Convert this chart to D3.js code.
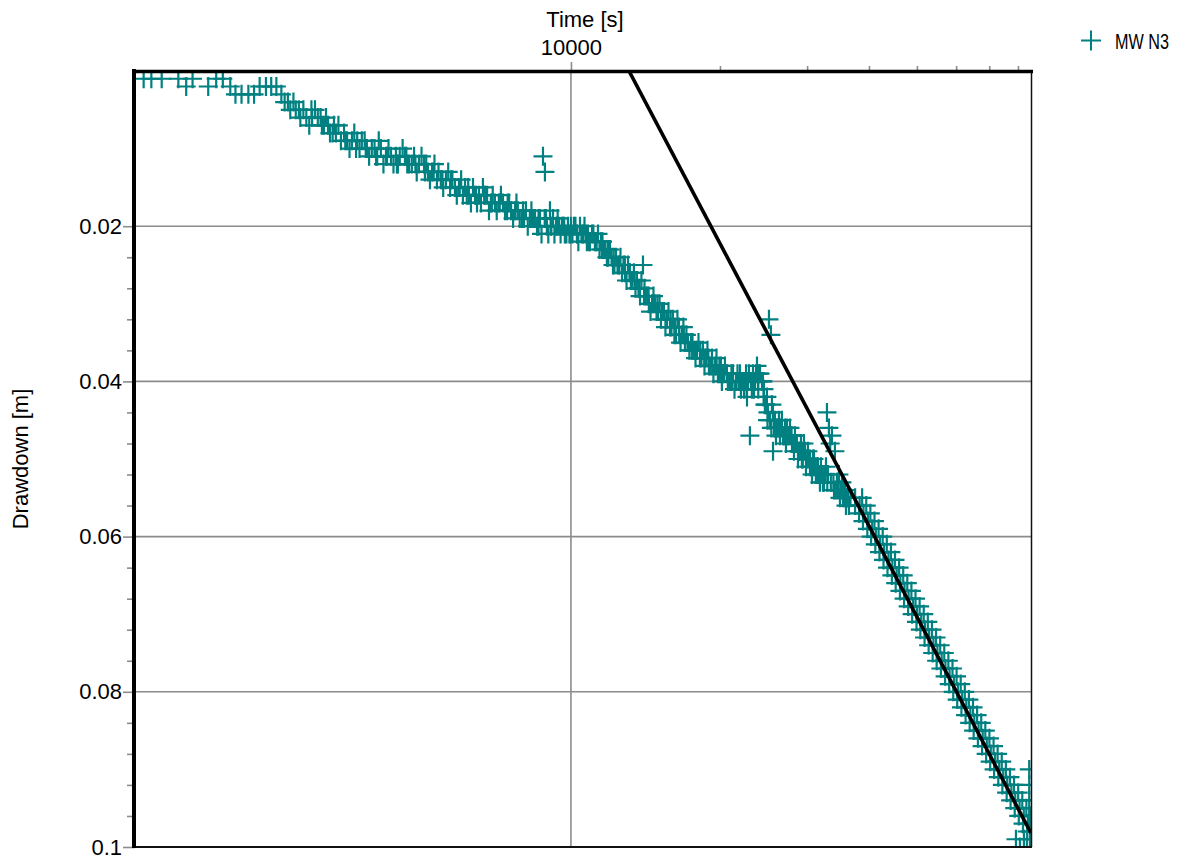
<!DOCTYPE html>
<html>
<head>
<meta charset="utf-8">
<script src="https://cdn.jsdelivr.net/npm/d3@7"></script>
<style>
  html, body { margin: 0; padding: 0; background: #ffffff; }
  svg { display: block; }
  text { font-family: "Liberation Sans", Arial, Helvetica, sans-serif; fill: #000; }
</style>
</head>
<body>
<svg id="chart" width="1198" height="858"></svg>
<script>
// Pumping test, observation well MW N3: drawdown against elapsed time
const seriesName = "MW N3";

const timeS = [
  1370, 1420, 1490, 1610, 1670, 1720, 1850, 1920, 1980, 2050,
  2100, 2160, 2230, 2290, 2350, 2420, 2480, 2540, 2600, 2640,
  2710, 2780, 2840, 2920, 3000, 3080, 3140, 3200, 3260, 3350,
  3430, 3530, 3610, 3700, 3780, 3870, 3960, 4060, 4130, 4230,
  4330, 4430, 4510, 4620, 4710, 4820, 4930, 5050, 5140, 5240,
  5360, 5460, 5590, 5700, 5830, 5940, 6050, 6160, 6280, 6400,
  6520, 6640, 6770, 6890, 7020, 7150, 7290, 7430, 7570, 7710,
  7810, 7960, 8110, 8260, 8380, 8540, 8660, 8780, 8860, 8940,
  9070, 9200, 9330, 9460, 9590, 9720, 9860, 10000, 10140, 10280,
  10430, 10570, 10720, 10820, 11030, 11180, 11340, 11500, 11660, 11820,
  11990, 12160, 12330, 12500, 12680, 12860, 13040, 13220, 13400, 13590,
  13790, 13980, 14170, 14370, 14580, 14780, 14990, 15200, 15410, 15630,
  15850, 16070, 16300, 16530, 16760, 16990, 17230, 17480, 17720, 17970,
  18220, 18480, 18740, 19000, 19270, 19540, 19810, 20090, 20280, 20660,
  20950, 21250, 21550, 21850, 22050, 22260, 22470, 22680, 22890, 22990,
  23100, 23320, 23540, 23760, 23980, 24320, 24540, 24650, 24880, 25120,
  25350, 25590, 25600, 25830, 26070, 26310, 26560, 26810, 27060, 27310,
  27570, 27830, 28090, 28350, 28610, 28880, 29150, 29420, 29700, 29970,
  30260, 30540, 30830, 31110, 31400, 31690, 31990, 32290, 32590, 32900,
  33200, 33670, 34140, 34460, 34780, 35110, 35440, 35770, 36100, 36440,
  // late time, on the straight-line segment
  36700, 37500, 37500, 38300, 38200, 39000, 38900, 39800, 39700, 40600,
  40400, 41300, 41200, 42100, 42000, 42900, 42800, 43800, 43600, 44600,
  44500, 45500, 45300, 46300, 46200, 47200, 47100, 48100, 48000, 49100,
  48900, 50000, 49900, 51000, 50800, 51900, 51800, 52900, 52800, 54000,
  53800, 55000, 54800, 56100, 55900, 57100, 57000, 58200, 58100, 59400,
  59200, 60500, 60300, 61700, 61500, 62900, 62700, 64100, 63900, 65300,
  65100, 66600, 66400, 67900, 67700, 69200, 69000, 70500, 70300, 71900,
  71600, 73300, 73000, 74700, 74400, 76100, 75900, 77600, 77300, 79000,
  78800, 80600, 80300, 82200, 81900, 83800, 83500, 84700,
  79250, 80730, 82250, 83390, 84570, 84300, 84300, 84300, 84300,
  // additional readings, early and middle times
  2750, 2880, 2960, 3040, 3120, 3230, 3300, 3390, 3480, 3570,
  3650, 3740, 3830, 3910, 4010, 4090, 4180, 4280, 4380, 4470,
  4570, 4670, 4770, 4880, 4990, 5100, 5190, 5300,
  5400, 5520, 5650, 5760, 5880, 6000, 6110, 6220, 6340, 6460,
  6580, 6700, 6830, 6950, 7080, 7220, 7360, 7500, 7640, 7760,
  7880, 8040, 8180, 8320, 8460, 8600, 8720, 8900, 9000, 9130,
  9260, 9400, 9530, 9650, 9790, 9930, 10070, 10210, 10350, 10500,
  10650, 10770, 10920, 11100, 11260, 11420, 11580, 11740, 11900, 12080,
  12240, 12420, 12590, 12770, 12950, 13130, 13310, 13500, 13690, 13880,
  14080, 14270, 14480, 14680, 14890, 15100, 15300, 15520, 15740, 15960,
  16180, 16410, 16650, 16870, 17110, 17350, 17600, 17850, 18100, 18350,
  18610, 18870, 19140, 19400, 19680, 19950, 20180, 20470, 20800, 21100,
  21400, 21700, 21950, 22150, 22370, 22580, 22780, 23200, 23430, 23650,
  23870, 24100, 24430, 24760, 25000, 25240, 25470, 25710, 25950, 26190,
  26440, 26680, 26930, 27190, 27440, 27700, 27960, 28220, 28480, 28750,
  29020, 29280, 29560, 29840, 30110, 30400, 30690, 30970, 31250, 31550,
  31840, 32140, 32440, 32750, 33050, 33400, 33900, 34300, 34620, 34950,
  35270, 35600, 35940, 36270,
  // additional late readings
  38750, 39500, 40260, 41040, 41830, 42640, 43460, 44300, 45150, 46020,
  46910, 47810, 48730, 49670, 50630, 51610, 52600, 53620, 54650, 55710,
  56780, 57870, 58990, 60130, 61290, 62470, 63670, 64900, 66150, 67430,
  68730, 70050, 71410, 72780, 74190, 75620, 77070, 78560, 80080, 81620,
  83190, 84800,
  // further readings, early to middle times
  2680, 2820, 2990, 3170, 3320, 3500, 3680, 3850, 4040, 4250,
  4450, 4650, 4850, 5070, 5280, 5500, 5720, 5960, 6200, 6430,
  6680, 6920, 7180, 7450, 7720, 8000, 8300, 8600, 8850,
  9100, 9380, 9690, 9980, 10300, 10600, 10880, 11250, 11550, 11880,
  12200, 12520, 12850, 13160, 13450, 13750, 14050, 14350, 14650, 14950,
  15250, 15580, 15900, 16220, 16550, 16900, 17200, 17550, 17900, 18250,
  18600, 18950, 19300, 19650, 20000, 20400, 20750, 21150, 21600, 22100,
  22650, 23300, 23900, 24500, 24950, 25400, 25900, 26400, 26900, 27400,
  27900, 28400, 28900, 29400, 29900, 30400, 30900, 31400, 31900, 32400,
  32950, 33500, 34000, 34500, 35000, 35500, 36000
];

const drawdownM = [
  0.001, 0.001, 0.001, 0.001, 0.002, 0.001, 0.002, 0.001, 0.001, 0.002,
  0.003, 0.003, 0.003, 0.003, 0.002, 0.002, 0.002, 0.002, 0.003, 0.004,
  0.005, 0.005, 0.006, 0.006, 0.006, 0.006, 0.007, 0.006, 0.008, 0.008,
  0.009, 0.009, 0.009, 0.009, 0.009, 0.010, 0.010, 0.011, 0.010, 0.011,
  0.011, 0.011, 0.011, 0.011, 0.012, 0.011, 0.012, 0.012, 0.013, 0.013,
  0.014, 0.014, 0.014, 0.015, 0.015, 0.015, 0.016, 0.016, 0.017, 0.016,
  0.016, 0.015, 0.016, 0.017, 0.017, 0.017, 0.017, 0.018, 0.018, 0.018,
  0.018, 0.019, 0.018, 0.019, 0.019, 0.020, 0.019, 0.011, 0.013, 0.020,
  0.018, 0.019, 0.020, 0.020, 0.020, 0.021, 0.020, 0.020, 0.020, 0.021,
  0.020, 0.021, 0.021, 0.021, 0.021, 0.022, 0.021, 0.022, 0.023, 0.024,
  0.023, 0.025, 0.024, 0.025, 0.026, 0.026, 0.025, 0.027, 0.026, 0.027,
  0.029, 0.025, 0.029, 0.030, 0.030, 0.030, 0.031, 0.032, 0.031, 0.032,
  0.033, 0.032, 0.034, 0.033, 0.034, 0.035, 0.035, 0.035, 0.036, 0.036,
  0.037, 0.036, 0.037, 0.038, 0.037, 0.038, 0.039, 0.038, 0.039, 0.039,
  0.040, 0.039, 0.040, 0.040, 0.041, 0.040, 0.040, 0.042, 0.039, 0.047,
  0.040, 0.039, 0.040, 0.038, 0.039, 0.040, 0.041, 0.043, 0.042, 0.032,
  0.034, 0.044, 0.049, 0.045, 0.046, 0.045, 0.046, 0.047, 0.046, 0.046,
  0.047, 0.047, 0.048, 0.047, 0.048, 0.049, 0.048, 0.049, 0.049, 0.050,
  0.050, 0.051, 0.050, 0.051, 0.052, 0.052, 0.051, 0.053, 0.052, 0.044,
  0.046, 0.047, 0.049, 0.053, 0.052, 0.054, 0.055, 0.054, 0.055, 0.056,
  // late time, on the straight-line segment
  0.055, 0.055, 0.056, 0.056, 0.057, 0.057, 0.058, 0.058, 0.059, 0.059,
  0.060, 0.060, 0.061, 0.061, 0.062, 0.062, 0.063, 0.063, 0.064, 0.064,
  0.065, 0.065, 0.066, 0.066, 0.067, 0.067, 0.068, 0.068, 0.069, 0.069,
  0.070, 0.070, 0.071, 0.071, 0.072, 0.072, 0.073, 0.073, 0.074, 0.074,
  0.075, 0.075, 0.076, 0.076, 0.077, 0.077, 0.078, 0.078, 0.079, 0.079,
  0.080, 0.080, 0.081, 0.081, 0.082, 0.082, 0.083, 0.083, 0.084, 0.084,
  0.085, 0.085, 0.086, 0.086, 0.087, 0.087, 0.088, 0.088, 0.089, 0.089,
  0.090, 0.090, 0.091, 0.091, 0.092, 0.092, 0.093, 0.093, 0.094, 0.094,
  0.095, 0.095, 0.096, 0.096, 0.097, 0.097, 0.098, 0.098,
  0.099, 0.100, 0.099, 0.100, 0.099, 0.090, 0.092, 0.094, 0.096,
  // additional readings, early and middle times
  0.004, 0.005, 0.007, 0.005, 0.006, 0.007, 0.008, 0.007, 0.008, 0.010,
  0.008, 0.010, 0.009, 0.011, 0.010, 0.009, 0.012, 0.010, 0.012, 0.012,
  0.010, 0.012, 0.012, 0.013, 0.011, 0.012, 0.014, 0.012,
  0.013, 0.015, 0.013, 0.014, 0.016, 0.014, 0.015, 0.016, 0.015, 0.017,
  0.017, 0.016, 0.018, 0.016, 0.018, 0.016, 0.018, 0.017, 0.019, 0.017,
  0.019, 0.019, 0.020, 0.018, 0.019, 0.020, 0.021, 0.019, 0.021, 0.020,
  0.021, 0.019, 0.021, 0.020, 0.021, 0.021, 0.021, 0.020, 0.022, 0.021,
  0.020, 0.022, 0.022, 0.021, 0.022, 0.023, 0.022, 0.023, 0.024, 0.024,
  0.025, 0.025, 0.024, 0.025, 0.027, 0.026, 0.027, 0.028, 0.028, 0.027,
  0.028, 0.029, 0.031, 0.029, 0.031, 0.030, 0.031, 0.033, 0.031, 0.033,
  0.034, 0.032, 0.035, 0.033, 0.034, 0.036, 0.035, 0.037, 0.035, 0.037,
  0.038, 0.036, 0.038, 0.039, 0.037, 0.038, 0.040, 0.038, 0.040, 0.039,
  0.041, 0.039, 0.039, 0.040, 0.041, 0.039, 0.040, 0.041, 0.041, 0.039,
  0.040, 0.039, 0.040, 0.043, 0.044, 0.045, 0.043, 0.046, 0.047, 0.046,
  0.047, 0.045, 0.047, 0.048, 0.047, 0.046, 0.048, 0.049, 0.048, 0.050,
  0.049, 0.050, 0.048, 0.051, 0.049, 0.051, 0.052, 0.050, 0.052, 0.051,
  0.053, 0.052, 0.053, 0.051, 0.052, 0.048, 0.053, 0.054, 0.054, 0.055,
  0.053, 0.055, 0.056, 0.055,
  // additional late readings
  0.055, 0.056, 0.057, 0.058, 0.059, 0.060, 0.061, 0.062, 0.063, 0.064,
  0.065, 0.066, 0.067, 0.068, 0.069, 0.070, 0.071, 0.072, 0.073, 0.074,
  0.075, 0.076, 0.077, 0.078, 0.079, 0.080, 0.081, 0.082, 0.083, 0.084,
  0.085, 0.086, 0.087, 0.088, 0.089, 0.090, 0.091, 0.092, 0.093, 0.094,
  0.095, 0.096,
  // further readings, early to middle times
  0.004, 0.005, 0.005, 0.007, 0.007, 0.009, 0.010, 0.010, 0.011, 0.011,
  0.012, 0.011, 0.012, 0.013, 0.013, 0.014, 0.014, 0.015, 0.015, 0.016,
  0.016, 0.017, 0.017, 0.017, 0.018, 0.018, 0.019, 0.019, 0.019,
  0.020, 0.020, 0.020, 0.021, 0.021, 0.021, 0.022, 0.022, 0.023, 0.023,
  0.024, 0.025, 0.025, 0.026, 0.027, 0.028, 0.029, 0.029, 0.030, 0.030,
  0.031, 0.032, 0.032, 0.033, 0.034, 0.034, 0.035, 0.036, 0.036, 0.036,
  0.037, 0.037, 0.038, 0.038, 0.039, 0.039, 0.040, 0.040, 0.040, 0.040,
  0.041, 0.040, 0.041, 0.042, 0.045, 0.046, 0.046, 0.046, 0.047, 0.047,
  0.047, 0.048, 0.049, 0.050, 0.050, 0.050, 0.051, 0.051, 0.052, 0.052,
  0.053, 0.053, 0.054, 0.053, 0.054, 0.054, 0.055
];

// Straight-line (Cooper-Jacob) fit, end points
const fitTimeS = [13100, 85000];
const fitDrawdownM = [0, 0.0982];

// Axis ticks
const xMajorTicks = [10000];
const xMinorTicks = [20000, 30000, 40000, 50000, 60000, 70000, 80000];
const yMajorTicks = [0.02, 0.04, 0.06, 0.08, 0.1];
const yMinorTicks = [0.024, 0.028, 0.032, 0.036, 0.044, 0.048, 0.052, 0.056,
                     0.064, 0.068, 0.072, 0.076, 0.084, 0.088, 0.092, 0.096];
const yGridTicks = [0.02, 0.04, 0.06, 0.08];

const points = timeS.map((t, i) => ({ t, s: drawdownM[i] }));

const plot = { left: 135, top: 71, right: 1031, bottom: 847 };
const teal = "#008080";
const gridGrey = "#8c8c8c";
const fontSize = 22;

const svg = d3.select("#chart");

const x = d3.scaleLog().domain([1316, 85000]).range([plot.left, plot.right]);
const y = d3.scaleLinear().domain([0, 0.1]).range([plot.top, plot.bottom]);

svg.append("defs").append("clipPath").attr("id", "plot-clip")
  .append("rect")
  .attr("x", plot.left).attr("y", plot.top)
  .attr("width", plot.right - plot.left).attr("height", plot.bottom - plot.top);

// Grid
const grid = svg.append("g");
grid.selectAll("line.h").data(yGridTicks).join("line")
  .attr("x1", plot.left).attr("x2", plot.right)
  .attr("y1", d => y(d)).attr("y2", d => y(d))
  .attr("stroke", gridGrey).attr("stroke-width", 1.6);
grid.selectAll("line.v").data(xMajorTicks).join("line")
  .attr("x1", d => x(d)).attr("x2", d => x(d))
  .attr("y1", plot.top).attr("y2", plot.bottom)
  .attr("stroke", gridGrey).attr("stroke-width", 1.6);

// Axes
function styleAxis(g) {
  g.select(".domain").remove();
  g.selectAll(".tick line").attr("stroke", gridGrey).attr("stroke-width", 1.6);
  g.selectAll(".tick text").attr("font-size", fontSize).attr("fill", "#000")
    .attr("font-family", "'Liberation Sans', Arial, sans-serif");
}

svg.append("g").attr("transform", `translate(0,${plot.top})`)
  .call(d3.axisTop(x).tickValues(xMajorTicks).tickSize(9).tickPadding(7)
    .tickFormat(d3.format("d")))
  .call(styleAxis);
svg.append("g").attr("transform", `translate(0,${plot.top})`)
  .call(d3.axisTop(x).tickValues(xMinorTicks).tickSize(5).tickFormat(""))
  .call(styleAxis);

svg.append("g").attr("transform", `translate(${plot.left},0)`)
  .call(d3.axisLeft(y).tickValues(yMajorTicks).tickSize(12).tickPadding(1)
    .tickFormat(d => String(+d.toFixed(3))))
  .call(styleAxis);
svg.append("g").attr("transform", `translate(${plot.left},0)`)
  .call(d3.axisLeft(y).tickValues(yMinorTicks).tickSize(8).tickFormat(""))
  .call(styleAxis);

// Observations
const crossPath = "M-9.5,0H9.5M0,-9.5V9.5";
svg.append("g").attr("clip-path", "url(#plot-clip)")
  .selectAll("path").data(points).join("path")
  .attr("d", crossPath)
  .attr("transform", d => `translate(${x(d.t)},${y(d.s)})`)
  .attr("fill", "none").attr("stroke", teal).attr("stroke-width", 2.2);

// Fitted straight line
const fitLine = d3.line().x(d => x(d.t)).y(d => y(d.s));
svg.append("path").attr("clip-path", "url(#plot-clip)")
  .datum(fitTimeS.map((t, i) => ({ t, s: fitDrawdownM[i] })))
  .attr("d", fitLine)
  .attr("fill", "none").attr("stroke", "#000").attr("stroke-width", 3.6);

// Frame
const frame = svg.append("g");
frame.append("line").attr("x1", plot.right + 0.5).attr("x2", plot.right + 0.5)
  .attr("y1", plot.top).attr("y2", plot.bottom)
  .attr("stroke", "#111").attr("stroke-width", 1.5);
frame.append("line").attr("x1", plot.left).attr("x2", plot.right + 1)
  .attr("y1", plot.bottom).attr("y2", plot.bottom)
  .attr("stroke", "#111").attr("stroke-width", 2);
frame.append("line").attr("x1", plot.left - 1).attr("x2", plot.left - 1)
  .attr("y1", plot.top - 2).attr("y2", plot.bottom + 1)
  .attr("stroke", "#000").attr("stroke-width", 4);
frame.append("line").attr("x1", plot.left - 3).attr("x2", plot.right + 2)
  .attr("y1", plot.top + 0.5).attr("y2", plot.top + 0.5)
  .attr("stroke", "#000").attr("stroke-width", 3.6);

// Axis titles
svg.append("text").attr("x", (plot.left + plot.right) / 2 + 2).attr("y", 27)
  .attr("text-anchor", "middle").attr("font-size", fontSize).text("Time [s]");
svg.append("text")
  .attr("transform", `translate(28,${(plot.top + plot.bottom) / 2}) rotate(-90)`)
  .attr("text-anchor", "middle").attr("font-size", fontSize).text("Drawdown [m]");

// Legend
const legend = svg.append("g").attr("transform", "translate(1091,40.5)");
legend.append("path").attr("d", "M-10,0H10M0,-10V10")
  .attr("fill", "none").attr("stroke", teal).attr("stroke-width", 2);
legend.append("text").attr("x", 24).attr("y", 8).attr("font-size", 22.5)
  .attr("textLength", 54).attr("lengthAdjust", "spacingAndGlyphs")
  .text(seriesName);
</script>
</body>
</html>
